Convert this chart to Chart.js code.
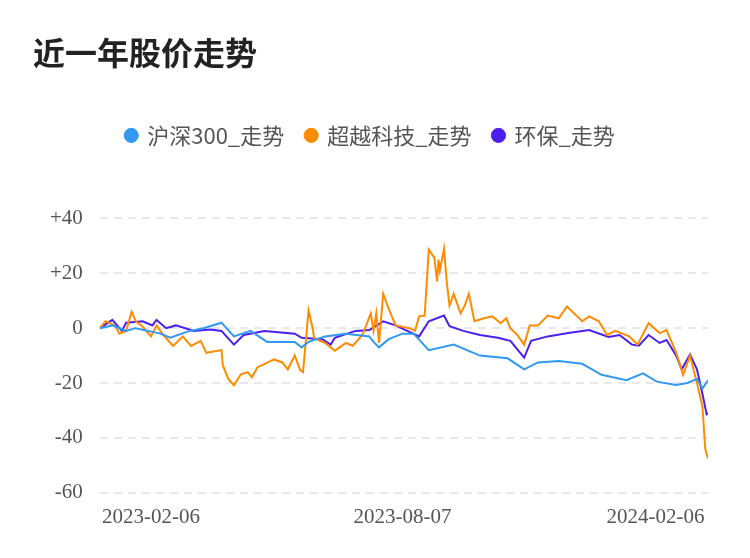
<!DOCTYPE html>
<html>
<head>
<meta charset="utf-8">
<script src="https://cdn.jsdelivr.net/npm/chart.js@4"></script>
<style>
  html, body { margin: 0; padding: 0; background: #fff; }
  #wrap { width: 750px; height: 558px; position: relative; }
</style>
</head>
<body>
<div id="wrap"><canvas id="c" width="750" height="558"></canvas></div>
<script>
// x = days since 2023-02-06
const tickDays = [0, 182, 365];
const tickLabels = ['2023-02-06', '2023-08-07', '2024-02-06'];

const hs300Days = [-37,-28,-18,-11,7,14,28,38,51,60,72,84,104,109,114,126,141,158,161,165,172,182,190,201,219,238,258,270,280,295,312,326,344,356,366,380,388,395,399,403];
const hs300Vals = [0,1,-1,0,-2,-3.5,-1,0,2,-3,-1,-5,-5,-7,-5,-3,-2,-3,-5,-7,-4,-2,-2,-8,-6,-10,-11,-15,-12.5,-12,-13,-17,-19,-16.5,-19.5,-20.7,-20,-18.5,-22,-19];

const cyDays = [-37,-33,-26,-23,-18,-14,-11,-6,0,4,9,16,23,29,36,40,51,52,56,60,65,70,73,77,89,95,99,104,108,110,114,117,118,126,133,141,146,153,159,161,163,165,168,172,177,187,191,194,198,201,205,207,208,209,212,214,216,219,224,227,230,234,241,247,253,257,260,265,270,274,280,287,295,301,312,317,324,330,336,346,352,360,368,373,380,385,390,395,399,401,403];
const cyVals = [0,2.5,1,-2,-1,6,2.5,0.5,-3,1,-2.5,-6.5,-3,-6.5,-4.6,-9,-8,-13.6,-18.6,-20.8,-16.8,-16,-17.9,-14.3,-11.4,-12.5,-15,-10,-15.4,-16,6.4,0,-3.6,-5.4,-8.2,-5.4,-6.4,-2.5,5.4,-1,5.4,-5.4,12.5,7,1,0,-1,4.3,4.6,28.6,25.7,17,25,21,29,16.8,8.2,12.5,5.4,8.2,12.5,2.5,3.6,4.3,1.8,3.6,0,-2.5,-6,1,1,4.6,3.6,7.9,2.5,4.3,2.5,-2.5,-1,-3,-6,1.8,-1.8,-0.7,-9,-17,-10,-20,-28.6,-44,-47.5];

const hbDays = [-37,-28,-21,-18,-6,1,4,11,18,31,43,51,60,67,82,104,109,124,130,133,148,158,168,177,194,201,212,216,226,238,251,260,270,275,287,302,317,331,339,348,353,360,368,373,380,384,390,395,399,402,403];
const hbVals = [0,3,-1,2,2.5,1,3,0,1,-1,-0.5,-1,-6,-2.5,-1,-2,-3.5,-4,-6,-3.5,-1,-0.7,2.5,1,-3,2.5,4.6,0.7,-1,-2.5,-3.5,-4.6,-10.7,-4.6,-3,-1.8,-0.7,-3.2,-2.5,-6,-6.4,-2.5,-5.4,-4.3,-10,-15,-9.6,-15,-24,-31.4,-31];

const yTicks = [40, 20, 0, -20, -40, -60];

function pts(xs, ys) { return xs.map((x, i) => ({ x: x, y: ys[i] })); }

const serif = 'Liberation Serif';

new Chart(document.getElementById('c').getContext('2d'), {
  type: 'line',
  data: {
    datasets: [
      { label: '沪深300_走势', data: pts(hs300Days, hs300Vals), borderColor: '#3399f0', backgroundColor: '#3399f0' },
      { label: '超越科技_走势', data: pts(cyDays, cyVals), borderColor: '#ff8c00', backgroundColor: '#ff8c00' },
      { label: '环保_走势', data: pts(hbDays, hbVals), borderColor: '#4b1ff0', backgroundColor: '#4b1ff0' }
    ]
  },
  options: {
    responsive: false,
    animation: false,
    layout: { padding: { left: 33, right: 42, top: 34, bottom: 24 } },
    elements: { point: { radius: 0 }, line: { borderWidth: 2, tension: 0 } },
    plugins: {
      title: {
        display: true, text: '近一年股价走势', align: 'start', color: '#222',
        font: { family: 'Noto Sans CJK SC', size: 32, weight: 'bold' },
        padding: { top: 0, bottom: 30 }
      },
      legend: {
        labels: {
          usePointStyle: true, pointStyle: 'circle', boxWidth: 10, boxHeight: 10,
          color: '#555', font: { family: 'Noto Sans CJK SC', size: 22 }, padding: 22
        }
      },
      tooltip: { enabled: false }
    },
    scales: {
      x: {
        type: 'linear', min: -37, max: 403,
        afterBuildTicks: s => { s.ticks = tickDays.map(v => ({ value: v })); },
        ticks: {
          callback: v => tickLabels[tickDays.indexOf(v)],
          color: '#555', font: { family: serif, size: 21 }, maxRotation: 0, padding: 4
        },
        grid: { display: false }, border: { display: false }
      },
      y: {
        min: -60, max: 40,
        afterBuildTicks: s => { s.ticks = yTicks.map(v => ({ value: v })); },
        ticks: {
          callback: v => (v > 0 ? '+' + v : '' + v),
          color: '#555', font: { family: serif, size: 21 }, padding: 17
        },
        grid: { color: '#e8e8e8', lineWidth: 2, drawTicks: false },
        border: { display: false, dash: [8, 6] }
      }
    }
  },
  plugins: [{
    id: 'legendGap',
    beforeInit(chart) {
      const fit = chart.legend.fit;
      chart.legend.fit = function () { fit.bind(chart.legend)(); this.height += 62; };
    }
  }]
});
</script>
</body>
</html>
